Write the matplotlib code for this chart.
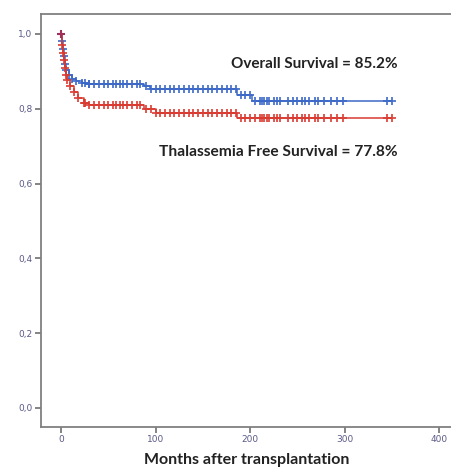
import numpy as np
import matplotlib.pyplot as plt
from matplotlib.ticker import FuncFormatter

# Kaplan-Meier step points (months, survival)
os_time = [0, 1, 2, 3, 4, 5, 8, 12, 16, 22, 30, 88, 94, 186, 202, 350]
os_surv = [1.0, 0.98, 0.96, 0.94, 0.92, 0.905, 0.89, 0.88, 0.875, 0.868, 0.865,
           0.862, 0.852, 0.837, 0.822, 0.822]

tfs_time = [0, 1, 2, 3, 4, 5, 6, 10, 14, 18, 24, 30, 88, 100, 186, 350]
tfs_surv = [1.0, 0.97, 0.95, 0.93, 0.91, 0.89, 0.877, 0.86, 0.845, 0.83, 0.815,
            0.81, 0.80, 0.79, 0.776, 0.776]

# censored follow-up times (months)
censored = [25, 30, 35, 40, 45, 50, 55, 58, 62, 66, 70, 75, 80, 84, 90, 95, 100,
            105, 110, 115, 120, 125, 130, 135, 140, 145, 150, 155, 160, 165, 170,
            175, 180, 185, 190, 195, 200, 205, 210, 212, 215, 218, 220, 225, 228,
            232, 240, 245, 250, 255, 258, 262, 268, 272, 278, 285, 292, 298, 345, 350]

os_label = 'Overall Survival = 85.2%'
tfs_label = 'Thalassemia Free Survival = 77.8%'

blue = '#3b68c8'
red = '#d93a30'


def surv_at(times, surv, t):
    idx = np.searchsorted(times, t, side='right') - 1
    return np.asarray(surv)[idx]


fig = plt.figure(figsize=(4.52, 4.67), dpi=100)
ax = fig.add_axes([0.0907, 0.0857, 0.9093, 0.8844])

for times, surv, col in [(os_time, os_surv, blue), (tfs_time, tfs_surv, red)]:
    ax.step(times, surv, where='post', color=col, lw=1.1)
    ax.plot(censored, surv_at(times, surv, censored), '+', color=col,
            ms=5.5, mew=1.4, alpha=0.85)
    ax.plot(times[1:11], surv[1:11], '+', color=col, ms=5.5, mew=1.4, alpha=0.85)
ax.plot([0], [1.0], '+', color='#a0305a', ms=6, mew=1.5)

ax.text(356, 0.92, os_label, ha='right', va='center', fontsize=11,
        fontweight='bold', family='Lato', color='#222222')
ax.text(356, 0.684, tfs_label, ha='right', va='center', fontsize=11.2,
        fontweight='bold', family='Lato', color='#222222')

ax.set_xlim(-21.1, 413.3)
ax.set_ylim(-0.0508, 1.0535)
ax.set_xticks([0, 100, 200, 300, 400])
ax.set_yticks([0, 0.2, 0.4, 0.6, 0.8, 1.0])
ax.yaxis.set_major_formatter(FuncFormatter(lambda v, p: f'{v:.1f}'.replace('.', ',')))
ax.tick_params(direction='out', length=4, width=1.2, color='#707070',
               labelsize=6.5, labelcolor='#5a5a88', pad=2)

for side in ['left', 'top', 'bottom']:
    ax.spines[side].set_color('#808080')
    ax.spines[side].set_linewidth(1.3)
ax.spines['right'].set_visible(False)

ax.set_xlabel('Months after transplantation', fontsize=11.5, fontweight='bold',
              family='Lato', color='#222222', labelpad=6)

fig.savefig('out.png', dpi=100)
